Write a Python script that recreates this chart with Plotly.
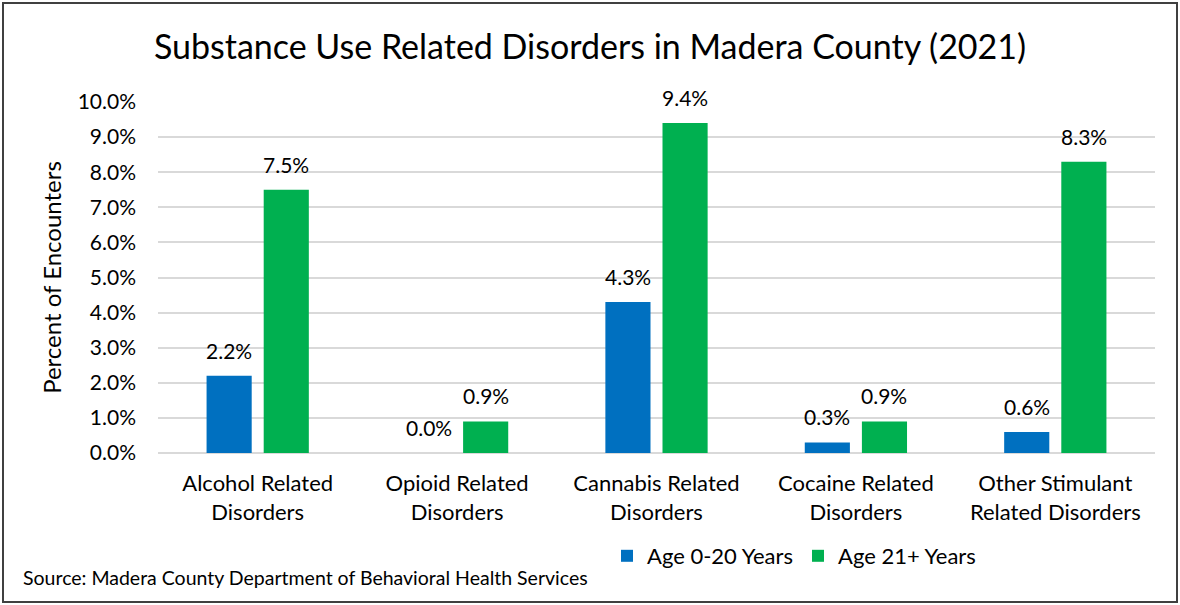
import plotly.graph_objects as go

categories = [
    "Alcohol Related<br>Disorders",
    "Opioid Related<br>Disorders",
    "Cannabis Related<br>Disorders",
    "Cocaine Related<br>Disorders",
    "Other Stimulant<br>Related Disorders",
]
age_0_20 = [0.022, 0.000, 0.043, 0.003, 0.006]
age_21_plus = [0.075, 0.009, 0.094, 0.009, 0.083]
y_ticks = [i / 100 for i in range(0, 11)]

FONT = "Lato, Calibri, Arial, sans-serif"
W, H = 1180, 605
ML, MR, MT, MB = 158, 25, 102, 152
PW, PH = W - ML - MR, H - MT - MB
BARGAP, GROUPGAP = 0.427, 0.21
# half of one bar slot, in pixels: offset of each series from the category centre
SLOT_HALF = PW / len(categories) * (1 - BARGAP) / 4


def px_x(x):
    return (x - ML) / PW


def px_y(y):
    return (H - MB - y) / PH


fig = go.Figure()
fig.add_trace(go.Bar(
    x=categories, y=age_0_20, name="Age 0-20 Years",
    marker=dict(color="#0070C0", line=dict(width=0)),
))
fig.add_trace(go.Bar(
    x=categories, y=age_21_plus, name="Age 21+ Years",
    marker=dict(color="#00B050", line=dict(width=0)),
))

# value labels above each bar
labels = []
for series, shift in ((age_0_20, -SLOT_HALF), (age_21_plus, SLOT_HALF)):
    for cat, val in zip(categories, series):
        labels.append(dict(
            x=cat, y=val, xref="x", yref="y",
            text=f"{val * 100:.1f}%", showarrow=False,
            xanchor="center", yanchor="bottom", xshift=shift, yshift=11,
            font=dict(size=21, family=FONT, color="#000000"),
        ))

labels.append(dict(
    text="Source: Madera County Department of Behavioral Health Services",
    xref="paper", yref="paper", x=px_x(21), y=px_y(577),
    xanchor="left", yanchor="middle", showarrow=False,
    font=dict(size=19.5, family=FONT, color="#000000"),
))

fig.update_layout(
    width=W, height=H,
    margin=dict(l=ML, r=MR, t=MT, b=MB),
    paper_bgcolor="white", plot_bgcolor="white",
    font=dict(family=FONT, color="#000000"),
    barmode="group", bargap=BARGAP, bargroupgap=GROUPGAP,
    title=dict(
        text="Substance Use Related Disorders in Madera County (2021)",
        font=dict(size=34, family=FONT, color="#000000"),
        x=px_x(590), xref="paper", xanchor="center", y=1 - 47 / H, yanchor="middle",
    ),
    yaxis=dict(
        range=[0, 0.1], tickvals=y_ticks, tickformat=".1%",
        showgrid=True, gridcolor="#D9D9D9", gridwidth=1.5,
        zeroline=True, zerolinecolor="#D9D9D9", zerolinewidth=1.5,
        showline=False, ticks="", ticklabelstandoff=21,
        tickfont=dict(size=21, family=FONT),
        title=dict(text="Percent of Encounters", font=dict(size=24, family=FONT), standoff=9),
    ),
    xaxis=dict(
        showline=False, ticks="", showgrid=False, ticklabelstandoff=15,
        tickfont=dict(size=22, family=FONT),
    ),
    showlegend=True,
    legend=dict(
        orientation="h", x=px_x(607), y=px_y(556), xanchor="left", yanchor="middle",
        font=dict(size=22, family=FONT), itemwidth=30,
        bgcolor="rgba(0,0,0,0)",
    ),
    annotations=labels,
    shapes=[dict(
        type="rect", xref="paper", yref="paper",
        x0=px_x(3), x1=px_x(1177), y0=px_y(602), y1=px_y(3),
        line=dict(color="#404040", width=2), fillcolor="rgba(0,0,0,0)",
        layer="below",
    )],
)

fig.write_html("out.html")
